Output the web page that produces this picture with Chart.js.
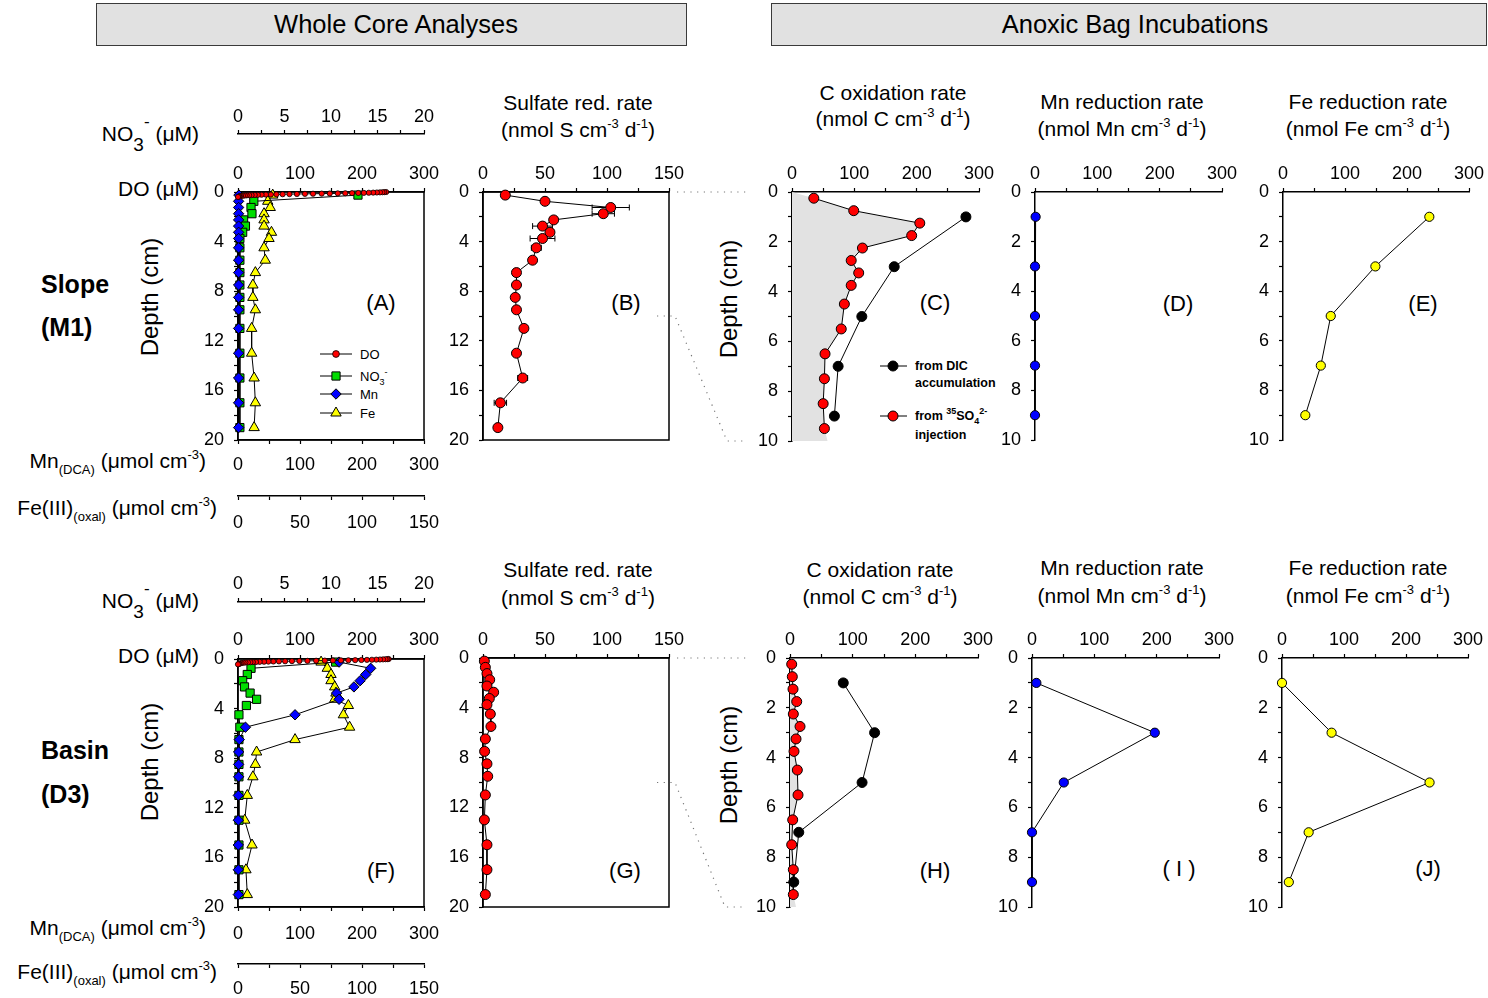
<!DOCTYPE html>
<html>
<head>
<meta charset="utf-8">
<title>Whole core analyses and anoxic bag incubations</title>
<script src="https://cdn.jsdelivr.net/npm/chart.js@4.4.1/dist/chart.umd.min.js"></script>
<style>
  html, body { margin:0; padding:0; background:#fff; }
  body { position:relative; width:1488px; height:998px; overflow:hidden; font-family:'Liberation Sans', Arial, Helvetica, sans-serif; color:#000; }
  canvas { position:absolute; }
  .t { position:absolute; white-space:nowrap; line-height:1; }
  .c { transform:translate(-50%,-50%); }
  .r { transform:translate(-100%,-50%); }
  .l { transform:translate(0,-50%); }
  .rot { transform:translate(-50%,-50%) rotate(-90deg); }
  .hdr { position:absolute; box-sizing:border-box; background:#e1e1e1; border:1px solid #3a3a3a; font-size:25.5px; display:flex; align-items:center; justify-content:center; }
  .ttl { font-size:21px; }
  .pl { font-size:22px; }
  .ax { font-size:21px; }
  .dep { font-size:24px; }
  .row { font-size:25px; font-weight:bold; }
  .lg { font-size:13px; }
  .lgb { font-size:12.5px; font-weight:bold; }
  .sp { font-size:13px; position:relative; top:-9px; }
  .sb { font-size:13px; position:relative; top:6px; }
  .lsp { font-size:9px; position:relative; top:-6px; }
  .lsb { font-size:9px; position:relative; top:4px; }
  svg.ov { position:absolute; left:0; top:0; pointer-events:none; }
</style>
</head>
<body>
<div class="hdr" style="left:96px;top:3px;width:591px;height:43px;padding-left:9px;">Whole Core Analyses</div>
<div class="hdr" style="left:771px;top:3px;width:716px;height:43px;padding-left:12px;">Anoxic Bag Incubations</div>

<div class="t l row" style="left:41px;top:284px;">Slope</div>
<div class="t l row" style="left:41px;top:327px;">(M1)</div>
<div class="t l row" style="left:41px;top:750px;">Basin</div>
<div class="t l row" style="left:41px;top:794px;">(D3)</div>

<!-- axis names, top row -->
<div class="t r ax" style="left:199px;top:133px;">NO<span style="position:relative;top:10px;font-size:19px;">3</span><span style="position:relative;top:-14px;font-size:17px;">-</span>&nbsp;(μM)</div>
<div class="t r ax" style="left:199px;top:188px;">DO (μM)</div>
<div class="t r ax" style="left:206px;top:460px;">Mn<span class="sb">(DCA)</span> (μmol cm<span class="sp">-3</span>)</div>
<div class="t r ax" style="left:217px;top:507px;">Fe(III)<span class="sb">(oxal)</span> (μmol cm<span class="sp">-3</span>)</div>
<!-- axis names, bottom row -->
<div class="t r ax" style="left:199px;top:600px;">NO<span style="position:relative;top:10px;font-size:19px;">3</span><span style="position:relative;top:-14px;font-size:17px;">-</span>&nbsp;(μM)</div>
<div class="t r ax" style="left:199px;top:655px;">DO (μM)</div>
<div class="t r ax" style="left:206px;top:927px;">Mn<span class="sb">(DCA)</span> (μmol cm<span class="sp">-3</span>)</div>
<div class="t r ax" style="left:217px;top:971px;">Fe(III)<span class="sb">(oxal)</span> (μmol cm<span class="sp">-3</span>)</div>

<div class="t rot dep" style="left:150px;top:297px;">Depth (cm)</div>
<div class="t rot dep" style="left:150px;top:762px;">Depth (cm)</div>
<div class="t rot dep" style="left:729px;top:299px;">Depth (cm)</div>
<div class="t rot dep" style="left:729px;top:765px;">Depth (cm)</div>

<!-- panel titles -->
<div class="t c ttl" style="left:578px;top:102px;">Sulfate red. rate</div>
<div class="t c ttl" style="left:578px;top:129px;">(nmol S cm<span class="sp">-3</span> d<span class="sp">-1</span>)</div>
<div class="t c ttl" style="left:893px;top:92px;">C oxidation rate</div>
<div class="t c ttl" style="left:893px;top:118px;">(nmol C cm<span class="sp">-3</span> d<span class="sp">-1</span>)</div>
<div class="t c ttl" style="left:1122px;top:101px;">Mn reduction rate</div>
<div class="t c ttl" style="left:1122px;top:128px;">(nmol Mn cm<span class="sp">-3</span> d<span class="sp">-1</span>)</div>
<div class="t c ttl" style="left:1368px;top:101px;">Fe reduction rate</div>
<div class="t c ttl" style="left:1368px;top:128px;">(nmol Fe cm<span class="sp">-3</span> d<span class="sp">-1</span>)</div>

<div class="t c ttl" style="left:578px;top:569px;">Sulfate red. rate</div>
<div class="t c ttl" style="left:578px;top:597px;">(nmol S cm<span class="sp">-3</span> d<span class="sp">-1</span>)</div>
<div class="t c ttl" style="left:880px;top:569px;">C oxidation rate</div>
<div class="t c ttl" style="left:880px;top:596px;">(nmol C cm<span class="sp">-3</span> d<span class="sp">-1</span>)</div>
<div class="t c ttl" style="left:1122px;top:567px;">Mn reduction rate</div>
<div class="t c ttl" style="left:1122px;top:595px;">(nmol Mn cm<span class="sp">-3</span> d<span class="sp">-1</span>)</div>
<div class="t c ttl" style="left:1368px;top:567px;">Fe reduction rate</div>
<div class="t c ttl" style="left:1368px;top:595px;">(nmol Fe cm<span class="sp">-3</span> d<span class="sp">-1</span>)</div>

<!-- panel letters -->
<div class="t c pl" style="left:381px;top:303px;">(A)</div>
<div class="t c pl" style="left:626px;top:303px;">(B)</div>
<div class="t c pl" style="left:935px;top:303px;">(C)</div>
<div class="t c pl" style="left:1178px;top:304px;">(D)</div>
<div class="t c pl" style="left:1423px;top:304px;">(E)</div>
<div class="t c pl" style="left:381px;top:871px;">(F)</div>
<div class="t c pl" style="left:625px;top:871px;">(G)</div>
<div class="t c pl" style="left:935px;top:871px;">(H)</div>
<div class="t c pl" style="left:1179px;top:869px;">( I )</div>
<div class="t c pl" style="left:1428px;top:869px;">(J)</div>

<!-- legend texts -->
<div class="t l lg" style="left:360px;top:354px;">DO</div>
<div class="t l lg" style="left:360px;top:376px;">NO<span class="lsb">3</span><span class="lsp">-</span></div>
<div class="t l lg" style="left:360px;top:394px;">Mn</div>
<div class="t l lg" style="left:360px;top:413px;">Fe</div>
<div class="t l lgb" style="left:915px;top:366px;">from DIC</div>
<div class="t l lgb" style="left:915px;top:383px;">accumulation</div>
<div class="t l lgb" style="left:915px;top:416px;">from <span class="lsp">35</span>SO<span class="lsb">4</span><span class="lsp">2-</span></div>
<div class="t l lgb" style="left:915px;top:435px;">injection</div>

<script>
// ======================= DATA =======================
// depth grids (cm)
const coreDepth = [0.25, 0.75, 1.25, 1.75, 2.25, 2.75, 3.25, 3.75, 4.5, 5.5, 6.5, 7.5, 8.5, 9.5, 11, 13, 15, 17, 19];
const bagDepth = [1, 3, 5, 7, 9];
const shallowDepth = [0.25, 0.75, 1.25, 1.75, 2.25, 2.75, 3.25, 3.75, 4.5, 5.5, 6.5, 7.5, 8.5, 9.5];

// ---- Slope (M1) ----
const slopeDoDepth = [0, 0.01, 0.02, 0.03, 0.04, 0.05, 0.06, 0.07, 0.08, 0.09, 0.10, 0.11, 0.12, 0.13, 0.14, 0.15, 0.16, 0.17, 0.18, 0.19, 0.20, 0.21, 0.22, 0.23, 0.24, 0.25, 0.26, 0.27, 0.28, 0.30, 0.32, 0.34, 0.36, 0.38, 0.40];
const slopeDo = [239, 236, 233, 229, 224, 218, 211, 203, 194, 184, 173, 161, 148, 135, 121, 108, 95, 83, 72, 62, 53, 45, 38, 32, 27, 22, 18, 14, 11, 8, 5, 3, 2, 1, 0];
const slopeNo3 = [12.9, 1.7, 1.4, 1.5, 0.6, 0.8, 0.5, 0.2, 0.2, 0.2, 0.2, 0.2, 0.2, 0.2, 0.2, 0.2, 0.2, 0.2, 0.2];
const slopeMn = [1.5, 1, 1, 1, 1, 1, 1, 1, 1, 1, 1, 1, 1, 1, 1, 1, 1, 1, 1];
const slopeFe = [28, 24, 26, 21, 21, 21, 27, 25, 21, 22, 14, 12, 12, 14, 11, 11, 13, 14, 13];
const slopeSrr = [18, 50, 103, 97, 57, 48, 54, 48, 43, 40, 27, 27, 26, 27, 33, 27, 32, 14, 12];
const slopeSrrErr = [0, 0, 15, 9, 0, 8, 3, 10, 4, 0, 0, 0, 0, 0, 0, 0, 4, 5, 0];
const slopeCoxDic = [279, 164, 112, 74, 68];
const slopeCoxSrr = [35, 99, 205, 192, 113, 95, 107, 95, 84, 79, 53, 52, 50, 52];
const slopeShadeEnds = [0, 57];
const slopeMnRed = [1, 0, 0, 0, 0];
const slopeFeRed = [236, 149, 77, 61, 36];

// ---- Basin (D3) ----
const basinDoDepth = [0, 0.01, 0.02, 0.03, 0.04, 0.05, 0.06, 0.07, 0.08, 0.09, 0.10, 0.11, 0.12, 0.13, 0.14, 0.15, 0.16, 0.17, 0.18, 0.19, 0.20, 0.21, 0.22, 0.23, 0.24, 0.25, 0.26, 0.27, 0.28, 0.30, 0.32, 0.35, 0.38, 0.41, 0.43];
const basinDo = [243, 241, 238, 234, 229, 223, 216, 208, 199, 189, 178, 166, 153, 140, 126, 112, 99, 87, 76, 66, 57, 49, 42, 35, 29, 24, 20, 16, 12, 9, 6, 4, 2, 1, 0];
const basinNo3 = [10.5, 1.4, 1.0, 0.5, 0.7, 1.3, 2.0, 0.9, 0.1, 0.2, 0.1, 0.1, 0.1, 0.1, 0.1, 0.1, 0.1, 0.1, 0.1];
const basinMn = [163, 214, 206, 197, 187, 159, 163, null, 92, 12, 2, 1, 1, 1, 0.5, 0.5, 0.5, 0.5, 0.5];
const basinFe = [67, 72, 75, 75, 78, 79, 78, 89, 85, 90, 46, 15, 14, 12, 7.5, 5.4, 11.3, 6.4, 7.5];
const basinSrr = [1.1, 1.9, 3.2, 5.4, 3.2, 8.6, 5.1, 3.2, 5.9, 6.4, 1.9, 1.3, 3.2, 3.8, 1.9, 1.1, 3.2, 3.2, 1.9];
const basinCoxDic = [85, 135, 115, 14, 6];
const basinCoxSrr = [2.7, 3.7, 4.8, 10.7, 5.3, 16, 9.6, 6.4, 11.7, 12.8, 4.3, 2.7, 5.3, 5.3];
const basinShadeEnds = [0, 9.6];
const basinMnRed = [7, 197, 51, 0, 0];
const basinFeRed = [0, 80, 238, 43, 11];

// ---- axis ranges and tick labels ----
const concRange = [0, 300];
const no3Range = [0, 20];
const feRange = [0, 150];
const srrRange = [0, 150];
const rateRange = [0, 300];
const coreDepthRange = [0, 20];
const bagDepthRange = [0, 10];
const tickConc = [0, 100, 200, 300];
const tickNo3 = [0, 5, 10, 15, 20];
const tickFe = [0, 50, 100, 150];
const tickSrr = [0, 50, 100, 150];
const tickRate = [0, 100, 200, 300];
const tickCoreDepth = [0, 4, 8, 12, 16, 20];
const tickBagDepth = [0, 2, 4, 6, 8, 10];

// ======================= STYLE / HELPERS =======================
Chart.defaults.font.family = "'Liberation Sans', Arial, Helvetica, sans-serif";
Chart.defaults.font.size = 18;
Chart.defaults.color = '#000';

const MK = {
  doC:   { style: 'circle',   r: 2.6, color: '#ff0000', bw: 0.8 },
  no3:   { style: 'rect',     r: 5.8, color: '#00dd00', bw: 1 },
  mn:    { style: 'rectRot',  r: 5.2, color: '#0000ff', bw: 1 },
  fe:    { style: 'triangle', r: 6,   color: '#ffff00', bw: 1 },
  red:   { style: 'circle',   r: 5,   color: '#ff0000', bw: 1 },
  black: { style: 'circle',   r: 5,   color: '#000000', bw: 1 },
  blue:  { style: 'circle',   r: 4.6, color: '#0000ff', bw: 1 },
  yel:   { style: 'circle',   r: 4.6, color: '#ffff00', bw: 1 }
};

function xy(xs, ys) { return xs.map((x, i) => ({ x: x, y: ys[i] })); }

function series(xs, ys, xAxisID, mk, extra) {
  return Object.assign({
    data: xy(xs, ys), xAxisID: xAxisID, yAxisID: 'y',
    borderColor: '#000', borderWidth: 1, fill: false, tension: 0, spanGaps: true, clip: false,
    pointStyle: mk.style, pointRadius: mk.r, pointHoverRadius: mk.r,
    pointBackgroundColor: mk.color, pointBorderColor: '#000', pointBorderWidth: mk.bw
  }, extra || {});
}

function shade(vals, depths, ends, range, xAxisID) {
  const xs = [ends[0]].concat(vals, [ends[1]]);
  const ys = [range[0]].concat(depths, [range[1]]);
  return {
    data: xy(xs, ys), xAxisID: xAxisID, yAxisID: 'y', order: 9,
    borderWidth: 0, borderColor: 'rgba(0,0,0,0)', pointRadius: 0, pointHoverRadius: 0,
    backgroundColor: '#e2e2e2', fill: 'origin', tension: 0, clip: false
  };
}

function tickCb(labels) { return (v) => labels.indexOf(v) >= 0 ? String(v) : ''; }
function fix(prop, val) {
  return (s) => { s[prop] = val; s.paddingLeft = 0; s.paddingRight = 0; s.paddingTop = 0; s.paddingBottom = 0; };
}
function axisStyle() {
  return {
    border: { display: true, color: '#000', width: 1.5 },
    grid: { display: true, drawOnChartArea: false, drawTicks: true, tickLength: 4, tickColor: '#000', tickWidth: 1.2, color: '#000' }
  };
}
function xAxis(pos, weight, range, step, labels, size, pad) {
  return Object.assign(axisStyle(), {
    type: 'linear', axis: 'x', position: pos, weight: weight, min: range[0], max: range[1],
    ticks: { stepSize: step, autoSkip: false, maxRotation: 0, minRotation: 0, padding: pad, color: '#000', font: { size: 18 }, callback: tickCb(labels) },
    afterFit: fix('height', size)
  });
}
function yAxis(range, step, labels, size) {
  return Object.assign(axisStyle(), {
    type: 'linear', axis: 'y', position: 'left', reverse: true, min: range[0], max: range[1],
    ticks: { stepSize: step, autoSkip: false, padding: 10, color: '#000', font: { size: 18 }, callback: tickCb(labels) },
    afterFit: fix('width', size)
  });
}

// plugin: closed frame around the plot area
const framePlugin = {
  id: 'frame',
  beforeDatasetsDraw(chart, args, opts) {
    if (!opts || !opts.show) return;
    const a = chart.chartArea, ctx = chart.ctx;
    ctx.save(); ctx.strokeStyle = '#000'; ctx.lineWidth = 1.5;
    ctx.strokeRect(a.left, a.top, a.right - a.left, a.bottom - a.top);
    ctx.restore();
  }
};

// plugin: horizontal error bars (dataset.errorX)
const errorBarPlugin = {
  id: 'errorBars',
  beforeDatasetsDraw(chart) {
    const ctx = chart.ctx;
    chart.data.datasets.forEach((ds, i) => {
      if (!ds.errorX) return;
      const meta = chart.getDatasetMeta(i);
      const xs = chart.scales[meta.xAxisID], ys = chart.scales[meta.yAxisID];
      ctx.save(); ctx.strokeStyle = '#000'; ctx.lineWidth = 1;
      ds.data.forEach((p, j) => {
        const e = ds.errorX[j];
        if (!e) return;
        const y = ys.getPixelForValue(p.y);
        const x1 = xs.getPixelForValue(p.x - e), x2 = xs.getPixelForValue(p.x + e);
        ctx.beginPath();
        ctx.moveTo(x1, y); ctx.lineTo(x2, y);
        ctx.moveTo(x1, y - 3); ctx.lineTo(x1, y + 3);
        ctx.moveTo(x2, y - 3); ctx.lineTo(x2, y + 3);
        ctx.stroke();
      });
      ctx.restore();
    });
  }
};

// plugin: legend symbols (line + marker) inside the plot area
function drawMarker(ctx, style, r, x, y) {
  ctx.beginPath();
  if (style === 'rect') {
    const s = r * Math.SQRT1_2; ctx.rect(x - s, y - s, 2 * s, 2 * s);
  } else if (style === 'rectRot') {
    ctx.moveTo(x, y - r); ctx.lineTo(x + r, y); ctx.lineTo(x, y + r); ctx.lineTo(x - r, y); ctx.closePath();
  } else if (style === 'triangle') {
    for (let k = 0; k < 3; k++) {
      const a = k * 2 * Math.PI / 3;
      const px = x + Math.sin(a) * r, py = y - Math.cos(a) * r;
      if (k === 0) ctx.moveTo(px, py); else ctx.lineTo(px, py);
    }
    ctx.closePath();
  } else {
    ctx.arc(x, y, r, 0, Math.PI * 2);
  }
  ctx.fill(); ctx.stroke();
}
const symbolLegendPlugin = {
  id: 'symbolLegend',
  afterDatasetsDraw(chart, args, opts) {
    const items = (opts && opts.items) || [];
    const a = chart.chartArea, ctx = chart.ctx;
    items.forEach((it) => {
      const ds = chart.data.datasets[it.ds];
      const y = a.top + it.y;
      ctx.save();
      ctx.strokeStyle = '#000'; ctx.lineWidth = 1;
      ctx.beginPath(); ctx.moveTo(a.left + it.x1, y); ctx.lineTo(a.left + it.x2, y); ctx.stroke();
      ctx.fillStyle = ds.pointBackgroundColor; ctx.strokeStyle = ds.pointBorderColor; ctx.lineWidth = ds.pointBorderWidth;
      drawMarker(ctx, ds.pointStyle, it.r || ds.pointRadius, a.left + it.xm, y);
      ctx.restore();
    });
  }
};

function makePanel(cfg) {
  const a = cfg.area;
  const W = a.r - a.l + cfg.padL + cfg.padR;
  const H = a.b - a.t + cfg.padT + cfg.padB;
  const cv = document.createElement('canvas');
  cv.width = W; cv.height = H;
  cv.style.left = (a.l - cfg.padL) + 'px';
  cv.style.top = (a.t - cfg.padT) + 'px';
  cv.style.width = W + 'px'; cv.style.height = H + 'px';
  document.body.appendChild(cv);
  return new Chart(cv, {
    type: 'line',
    data: { datasets: cfg.datasets },
    options: {
      responsive: false, maintainAspectRatio: false, devicePixelRatio: 1, animation: false,
      indexAxis: 'y', events: [],
      layout: { autoPadding: false, padding: { left: 0, top: 0, right: cfg.padR, bottom: cfg.layoutBottom || 0 } },
      scales: cfg.scales,
      plugins: {
        legend: { display: false }, tooltip: { enabled: false },
        frame: { show: !!cfg.frame },
        symbolLegend: { items: cfg.legendItems || [] }
      }
    },
    plugins: [framePlugin, errorBarPlugin, symbolLegendPlugin]
  });
}

// ======================= PANELS =======================
// (A) whole core, slope
makePanel({
  area: { l: 238, t: 192, r: 424, b: 440 }, padL: 60, padT: 102, padR: 18, padB: 96, frame: true,
  scales: {
    y: yAxis(coreDepthRange, 2, tickCoreDepth, 60),
    xDO: xAxis('top', 0, concRange, 50, tickConc, 58, 3),
    xNO3: xAxis('top', 1, no3Range, 2.5, tickNo3, 44, 2),
    xMn: xAxis('bottom', 0, concRange, 50, tickConc, 56, 10),
    xFe: xAxis('bottom', 1, feRange, 25, tickFe, 40, 12)
  },
  datasets: [
    series(slopeDo, slopeDoDepth, 'xDO', MK.doC, { label: 'DO' }),
    series(slopeMn, coreDepth, 'xMn', MK.mn, { label: 'Mn' }),
    series(slopeNo3, coreDepth, 'xNO3', MK.no3, { label: 'NO3-' }),
    series(slopeFe, coreDepth, 'xFe', MK.fe, { label: 'Fe' })
  ],
  legendItems: [
    { ds: 0, x1: 82, x2: 114, xm: 98, y: 162, r: 3.4 },
    { ds: 2, x1: 82, x2: 114, xm: 98, y: 184 },
    { ds: 1, x1: 82, x2: 114, xm: 98, y: 202 },
    { ds: 3, x1: 82, x2: 114, xm: 98, y: 221 }
  ]
});

// (B) sulfate reduction, slope
const chartB = makePanel({
  area: { l: 483, t: 192, r: 669, b: 440 }, padL: 50, padT: 40, padR: 18, padB: 20, layoutBottom: 20, frame: true,
  scales: {
    y: yAxis(coreDepthRange, 2, tickCoreDepth, 50),
    x: xAxis('top', 0, srrRange, 25, tickSrr, 40, 3.5)
  },
  datasets: [ series(slopeSrr, coreDepth, 'x', MK.red, { label: 'SRR', errorX: slopeSrrErr }) ]
});

// (C) C oxidation, slope
const chartC = makePanel({
  area: { l: 792, t: 192, r: 979, b: 441 }, padL: 50, padT: 40, padR: 18, padB: 20, layoutBottom: 20,
  scales: {
    y: yAxis(bagDepthRange, 1, tickBagDepth, 50),
    x: xAxis('top', 0, rateRange, 50, tickRate, 40, 3.5)
  },
  datasets: [
    series(slopeCoxSrr, shallowDepth, 'x', MK.red, { label: 'from 35SO4 injection' }),
    series(slopeCoxDic, bagDepth, 'x', MK.black, { label: 'from DIC accumulation' }),
    shade(slopeCoxSrr, shallowDepth, slopeShadeEnds, bagDepthRange, 'x')
  ],
  legendItems: [
    { ds: 1, x1: 88, x2: 115, xm: 101, y: 174 },
    { ds: 0, x1: 88, x2: 115, xm: 101, y: 224 }
  ]
});

// (D) Mn reduction, slope
makePanel({
  area: { l: 1035, t: 192, r: 1222, b: 440 }, padL: 50, padT: 40, padR: 18, padB: 20, layoutBottom: 20,
  scales: { y: yAxis(bagDepthRange, 1, tickBagDepth, 50), x: xAxis('top', 0, rateRange, 50, tickRate, 40, 3.5) },
  datasets: [ series(slopeMnRed, bagDepth, 'x', MK.blue, { label: 'Mn reduction' }) ]
});

// (E) Fe reduction, slope
makePanel({
  area: { l: 1283, t: 192, r: 1469, b: 440 }, padL: 50, padT: 40, padR: 18, padB: 20, layoutBottom: 20,
  scales: { y: yAxis(bagDepthRange, 1, tickBagDepth, 50), x: xAxis('top', 0, rateRange, 50, tickRate, 40, 3.5) },
  datasets: [ series(slopeFeRed, bagDepth, 'x', MK.yel, { label: 'Fe reduction' }) ]
});

// (F) whole core, basin
makePanel({
  area: { l: 238, t: 659, r: 424, b: 907 }, padL: 60, padT: 99, padR: 18, padB: 96, frame: true,
  scales: {
    y: yAxis(coreDepthRange, 2, tickCoreDepth, 60),
    xDO: xAxis('top', 0, concRange, 50, tickConc, 57, 4),
    xNO3: xAxis('top', 1, no3Range, 2.5, tickNo3, 42, 3.5),
    xMn: xAxis('bottom', 0, concRange, 50, tickConc, 57, 12),
    xFe: xAxis('bottom', 1, feRange, 25, tickFe, 39, 10)
  },
  datasets: [
    series(basinDo, basinDoDepth, 'xDO', MK.doC, { label: 'DO' }),
    series(basinMn, coreDepth, 'xMn', MK.mn, { label: 'Mn' }),
    series(basinNo3, coreDepth, 'xNO3', MK.no3, { label: 'NO3-' }),
    series(basinFe, coreDepth, 'xFe', MK.fe, { label: 'Fe' })
  ]
});

// (G) sulfate reduction, basin
const chartG = makePanel({
  area: { l: 483, t: 658, r: 669, b: 907 }, padL: 50, padT: 40, padR: 18, padB: 20, layoutBottom: 20, frame: true,
  scales: { y: yAxis(coreDepthRange, 2, tickCoreDepth, 50), x: xAxis('top', 0, srrRange, 25, tickSrr, 40, 3) },
  datasets: [ series(basinSrr, coreDepth, 'x', MK.red, { label: 'SRR' }) ]
});

// (H) C oxidation, basin
const chartH = makePanel({
  area: { l: 790, t: 658, r: 978, b: 907 }, padL: 50, padT: 40, padR: 18, padB: 20, layoutBottom: 20,
  scales: { y: yAxis(bagDepthRange, 1, tickBagDepth, 50), x: xAxis('top', 0, rateRange, 50, tickRate, 40, 3) },
  datasets: [
    series(basinCoxSrr, shallowDepth, 'x', MK.red, { label: 'from 35SO4 injection' }),
    series(basinCoxDic, bagDepth, 'x', MK.black, { label: 'from DIC accumulation' }),
    shade(basinCoxSrr, shallowDepth, basinShadeEnds, bagDepthRange, 'x')
  ]
});

// (I) Mn reduction, basin
makePanel({
  area: { l: 1032, t: 658, r: 1219, b: 907 }, padL: 50, padT: 40, padR: 18, padB: 20, layoutBottom: 20,
  scales: { y: yAxis(bagDepthRange, 1, tickBagDepth, 50), x: xAxis('top', 0, rateRange, 50, tickRate, 40, 3) },
  datasets: [ series(basinMnRed, bagDepth, 'x', MK.blue, { label: 'Mn reduction' }) ]
});

// (J) Fe reduction, basin
makePanel({
  area: { l: 1282, t: 658, r: 1468, b: 907 }, padL: 50, padT: 40, padR: 18, padB: 20, layoutBottom: 20,
  scales: { y: yAxis(bagDepthRange, 1, tickBagDepth, 50), x: xAxis('top', 0, rateRange, 50, tickRate, 40, 3) },
  datasets: [ series(basinFeRed, bagDepth, 'x', MK.yel, { label: 'Fe reduction' }) ]
});

// ======================= dotted zoom connectors (from scale positions) =======================
const svgNS = 'http://www.w3.org/2000/svg';
const svg = document.createElementNS(svgNS, 'svg');
svg.setAttribute('class', 'ov'); svg.setAttribute('width', '1488'); svg.setAttribute('height', '998');
document.body.appendChild(svg);
function polyline(pts) {
  const pl = document.createElementNS(svgNS, 'polyline');
  pl.setAttribute('points', pts.map(p => p[0].toFixed(1) + ',' + p[1].toFixed(1)).join(' '));
  pl.setAttribute('fill', 'none'); pl.setAttribute('stroke', '#777');
  pl.setAttribute('stroke-width', '1.2'); pl.setAttribute('stroke-dasharray', '1.2 5.5');
  svg.appendChild(pl);
}
function connect(src, dst) {
  const sx = parseFloat(src.canvas.style.left), sy = parseFloat(src.canvas.style.top);
  const dx = parseFloat(dst.canvas.style.left), dy = parseFloat(dst.canvas.style.top);
  const sRight = sx + src.chartArea.right;
  const dLeft = dx + dst.chartArea.left;
  const top0 = bagDepthRange[0], bot = bagDepthRange[1];
  const sy0 = sy + src.scales.y.getPixelForValue(top0), sy1 = sy + src.scales.y.getPixelForValue(bot);
  const dy0 = dy + dst.scales.y.getPixelForValue(top0), dy1 = dy + dst.scales.y.getPixelForValue(bot);
  polyline([[sRight + 8, sy0], [dLeft - 42, dy0]]);
  polyline([[sRight - 12, sy1], [sRight + 6, sy1], [dLeft - 65, dy1], [dLeft - 45, dy1]]);
}
connect(chartB, chartC);
connect(chartG, chartH);
</script>
</body>
</html>
